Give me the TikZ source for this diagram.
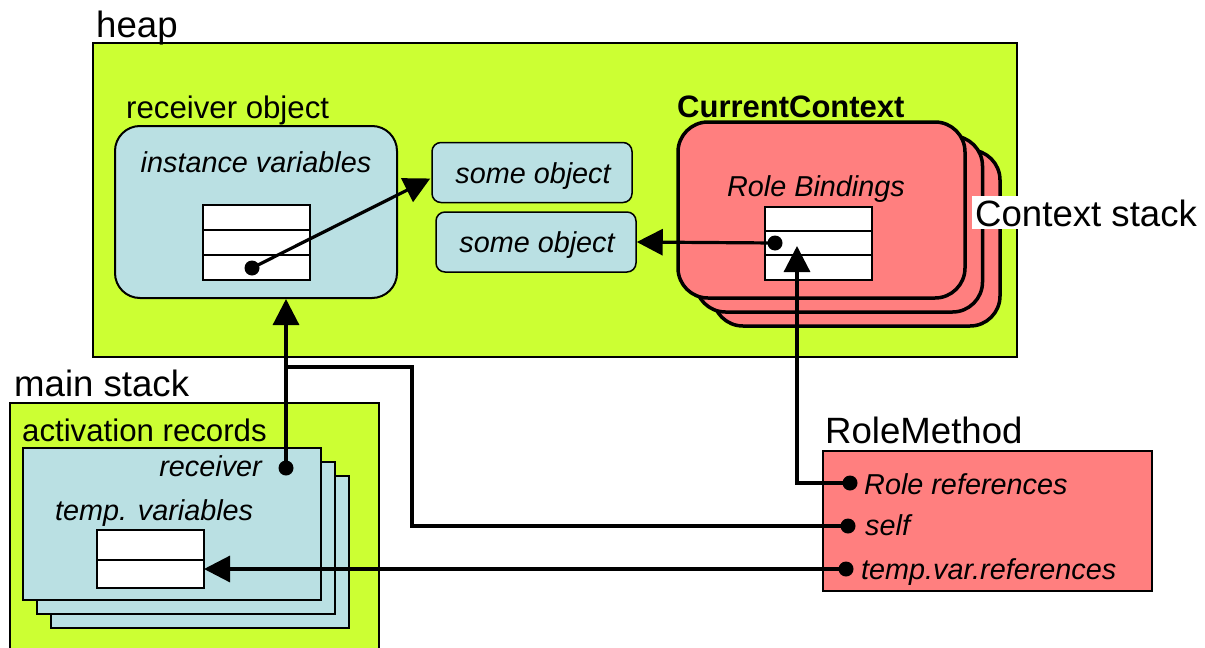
\documentclass[tikz,border=0pt]{standalone}
\usepackage{fontspec}
\setmainfont{Liberation Sans}
\usetikzlibrary{arrows.meta,calc}
\definecolor{memgreen}{HTML}{CCFF33}
\definecolor{objblue}{HTML}{BAE0E3}
\definecolor{ctxred}{HTML}{FF7F7F}
\newcommand\fsz[1]{\fontsize{#1}{#1}\selectfont}
\tikzset{
  area/.style={draw=black, line width=1.5pt, fill=memgreen, inner sep=0},
  objbox/.style={draw=black, line width=2pt, fill=objblue, rounded corners=25pt, inner sep=0},
  smallobj/.style={draw=black, line width=1.5pt, fill=objblue, rounded corners=9pt, inner sep=0,
    minimum width=200pt, minimum height=60pt},
  ctxcard/.style={draw=black, line width=3.5pt, fill=ctxred, rounded corners=30pt, inner sep=0,
    minimum width=287pt, minimum height=176pt},
  reccard/.style={draw=black, line width=1.5pt, fill=objblue, inner sep=0,
    minimum width=298pt, minimum height=152pt},
  cell/.style={draw=black, line width=1.5pt, fill=white},
  biglabel/.style={inner sep=0, font=\fsz{36.6}},
  midlabel/.style={inner sep=0, font=\fsz{31.2}},
  itlabel/.style={inner sep=0, font=\fsz{28.8}\itshape},
  ref/.style={circle, fill=black, minimum size=15pt, inner sep=0},
  link/.style={line width=3.2pt},
  pointer/.style={line width=3.2pt, -{Triangle[length=26pt,width=26pt]}},
}
\begin{document}
\begin{tikzpicture}[x=1pt,y=-1pt]
\useasboundingbox (0,0) rectangle (1205,648);
\clip (0,0) rectangle (1205,648);

% ---------- heap ----------
\node[area, minimum width=924pt, minimum height=314pt] (heap) at (555,200) {};
\node[biglabel, anchor=base west] (heaplbl) at (96,37) {heap};

% receiver object
\node[midlabel, anchor=base west] (recvlbl) at (126,118) {receiver object};
\node[objbox, minimum width=282pt, minimum height=172pt] (recv) at (256,212) {};
\node[itlabel, anchor=base] (ivlbl) at (256,172) {instance variables};
\draw[cell] (203,205) rectangle (310,230);
\draw[cell] (203,230) rectangle (310,255);
\draw[cell] (203,255) rectangle (310,280);

% plain objects
\node[smallobj] (obj1) at (532,172.5) {};
\node[itlabel, anchor=base] (obj1lbl) at (533,183) {some object};
\node[smallobj] (obj2) at (536,242) {};
\node[itlabel, anchor=base] (obj2lbl) at (537,252) {some object};

% context stack
\node[ctxcard] (ctx3) at (856.5,238) {};
\node[ctxcard] (ctx2) at (839,224) {};
\node[ctxcard] (ctx1) at (821.5,210) {};
\node[midlabel, font=\fsz{31}\bfseries, anchor=base west] (cclbl) at (677,117) {CurrentContext};
\node[itlabel, anchor=base] (rblbl) at (816,196) {Role Bindings};
\draw[cell] (765,207) rectangle (872,231);
\draw[cell] (765,231) rectangle (872,255);
\draw[cell] (765,255) rectangle (872,280);
\node[biglabel, fill=white, inner xsep=3pt, inner ysep=3pt, anchor=base west] (cslbl) at (972,226) {Context stack};

% ---------- main stack ----------
\node[area, minimum width=369pt, minimum height=270pt] (mstack) at (194.5,538) {};
\node[biglabel, anchor=base west] (mslbl) at (14,396) {main stack};
\node[midlabel, anchor=base west] (arlbl) at (22,441) {activation records};
\node[reccard] (ar3) at (200,552) {};
\node[reccard] (ar2) at (186,538) {};
\node[reccard] (ar1) at (172,524) {};
\node[itlabel, anchor=base east] (rcvlbl) at (262,476) {receiver};
\node[itlabel, anchor=base west] (tvlbl) at (55,520) {temp. variables};
\draw[cell] (97,530) rectangle (204,560);
\draw[cell] (97,560) rectangle (204,588);
\coordinate (tvslot) at (204,569);

% ---------- role method ----------
\node[biglabel, anchor=base west] (rmlbl) at (825,443) {RoleMethod};
\node[draw=black, line width=1.5pt, fill=ctxred, inner sep=0,
      minimum width=329pt, minimum height=140pt] (rm) at (987.5,521) {};
\node[itlabel, anchor=base west] (rrlbl) at (864,494) {Role references};
\node[itlabel, anchor=base west] (selflbl) at (865,535) {self};
\node[itlabel, anchor=base west] (tvrlbl) at (861,579) {temp.var.references};

% ---------- references ----------
\node[ref] (ivref) at (252,268) {};
\node[ref] (rbref) at (775,243) {};
\node[ref] (rcvref) at (286,468) {};
\node[ref] (rrref) at (850,483) {};
\node[ref] (selfref) at (848,526) {};
\node[ref] (tvref) at (846,569) {};
\coordinate (rbslot) at (797,246);
\coordinate (join) at (286,367);

\draw[pointer] (ivref.center) -- ($(obj1.west)+(-1,6)$);
\draw[pointer] (rbref.center) -- (obj2.east);
\draw[pointer] (rcvref.center) -- (recv.south -| rcvref);
\draw[link] (selfref.center) -- (412,526) -- (412,367) -- (join);
\draw[pointer] (rrref.center) -- (rbslot |- rrref) -- (rbslot);
\draw[pointer] (tvref.center) -- (tvslot);
\end{tikzpicture}
\end{document}
